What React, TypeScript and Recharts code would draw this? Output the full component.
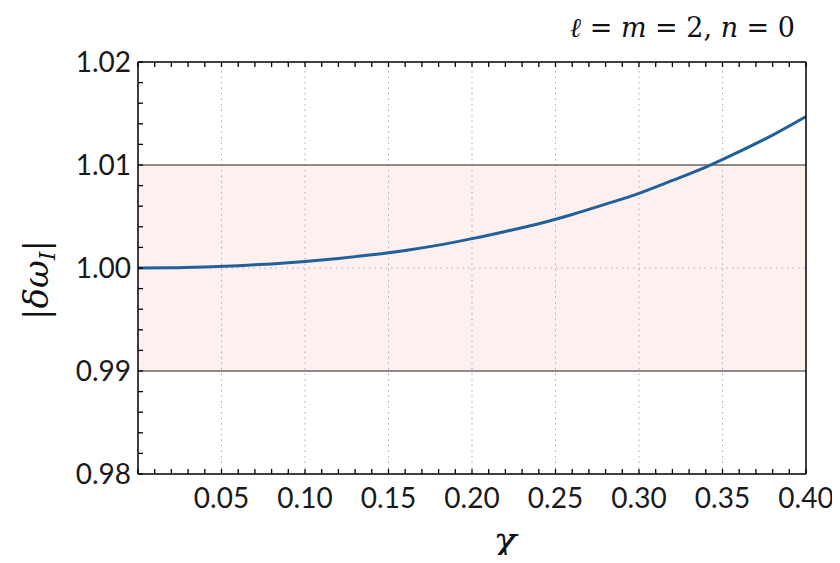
import { LineChart, Line, XAxis, YAxis, ReferenceArea, ReferenceLine } from "recharts";

const chi = [0, 0.02, 0.04, 0.06, 0.08, 0.1, 0.12, 0.14, 0.16, 0.18, 0.2, 0.22, 0.24, 0.26, 0.28, 0.3, 0.32, 0.34, 0.36, 0.38, 0.4];
const deltaOmega = [
  1.0, 1.00002, 1.0001, 1.00022, 1.0004, 1.00064, 1.00093, 1.00128, 1.0017, 1.00222, 1.00285, 1.00355, 1.0043, 1.0052,
  1.0062, 1.00725, 1.0085, 1.0098, 1.0113, 1.0129, 1.0147,
];
const xTicks = Array.from({ length: 41 }, (_, i) => i / 100);
const xLabels = [0.05, 0.1, 0.15, 0.2, 0.25, 0.3, 0.35, 0.4];
const yTicks = Array.from({ length: 21 }, (_, i) => +(0.98 + 0.002 * i).toFixed(3));
const yLabels = [0.98, 0.99, 1.0, 1.01, 1.02];
const xGrid = [0.05, 0.1, 0.15, 0.2, 0.25, 0.3, 0.35];
const band = [0.99, 1.01];

const data = chi.map((c, i) => ({ chi: c, w: deltaOmega[i] }));

const tickFont = "Lato, sans-serif";
const mathFont = "DejaVu Serif";

const isLabel = (list: number[], v: number) => list.some((l) => Math.abs(l - v) < 1e-6);

function BottomTick(props: any) {
  const { x, y, payload } = props;
  return (
    <g>
      <line x1={x} x2={x} y1={y} y2={y - 5} stroke="#000" strokeWidth={1.3} />
      {isLabel(xLabels, payload.value) && (
        <text x={x} y={y + 34} textAnchor="middle" fontFamily={tickFont} fontSize={28} fill="#1a1a1a">
          {payload.value.toFixed(2)}
        </text>
      )}
    </g>
  );
}

function TopTick(props: any) {
  const { x, y } = props;
  return <line x1={x} x2={x} y1={y} y2={y + 5} stroke="#000" strokeWidth={1.3} />;
}

function LeftTick(props: any) {
  const { x, y, payload } = props;
  return (
    <g>
      <line x1={x} x2={x + 5} y1={y} y2={y} stroke="#000" strokeWidth={1.3} />
      {isLabel(yLabels, payload.value) && (
        <text x={x - 7} y={y + 10} textAnchor="end" fontFamily={tickFont} fontSize={28} fill="#1a1a1a">
          {payload.value.toFixed(2)}
        </text>
      )}
    </g>
  );
}

function RightTick(props: any) {
  const { x, y } = props;
  return <line x1={x} x2={x - 5} y1={y} y2={y} stroke="#000" strokeWidth={1.3} />;
}

export default function App() {
  return (
    <div style={{ position: "relative", margin: "-8px", width: 840, height: 563, background: "#fff" }}>
      <LineChart width={840} height={563} data={data} margin={{ top: 61, right: 33, bottom: 88, left: 137 }}>
        <XAxis
          dataKey="chi"
          type="number"
          domain={[0, 0.4]}
          ticks={xTicks}
          interval={0}
          height={1}
          tickSize={0}
          tickMargin={0}
          tick={<BottomTick />}
          tickLine={false}
          axisLine={{ stroke: "#000", strokeWidth: 1.5 }}
          allowDataOverflow
        />
        <XAxis
          xAxisId="top"
          orientation="top"
          dataKey="chi"
          type="number"
          domain={[0, 0.4]}
          ticks={xTicks}
          interval={0}
          height={1}
          tickSize={0}
          tickMargin={0}
          tick={<TopTick />}
          tickLine={false}
          axisLine={{ stroke: "#000", strokeWidth: 1.5 }}
        />
        <YAxis
          type="number"
          domain={[0.98, 1.02]}
          ticks={yTicks}
          interval={0}
          width={1}
          tickSize={0}
          tickMargin={0}
          tick={<LeftTick />}
          tickLine={false}
          axisLine={{ stroke: "#000", strokeWidth: 1.5 }}
          allowDataOverflow
        />
        <YAxis
          yAxisId="right"
          orientation="right"
          type="number"
          domain={[0.98, 1.02]}
          ticks={yTicks}
          interval={0}
          width={1}
          tickSize={0}
          tickMargin={0}
          tick={<RightTick />}
          tickLine={false}
          axisLine={{ stroke: "#000", strokeWidth: 1.5 }}
        />
        <ReferenceArea y1={band[0]} y2={band[1]} fill="#fff0f0" fillOpacity={1} stroke="none" />
        {xGrid.map((g) => (
          <ReferenceLine key={g} x={g} stroke="#aaa" strokeWidth={1} strokeDasharray="1.5 4" />
        ))}
        <ReferenceLine y={1.0} stroke="#aaa" strokeWidth={1} strokeDasharray="1.5 4" />
        {band.map((b) => (
          <ReferenceLine key={b} y={b} stroke="#6f6666" strokeWidth={1.3} />
        ))}
        <Line dataKey="w" type="monotone" stroke="#22609a" strokeWidth={3} dot={false} isAnimationActive={false} />
      </LineChart>
      <svg width={840} height={563} style={{ position: "absolute", left: 0, top: 0, pointerEvents: "none" }}>
        <text x={795} y={37} textAnchor="end" fontFamily={mathFont} fontSize={27} fill="#111">
          <tspan fontStyle="italic">ℓ</tspan>
          <tspan> = </tspan>
          <tspan fontStyle="italic">m</tspan>
          <tspan> = 2, </tspan>
          <tspan fontStyle="italic">n</tspan>
          <tspan> = 0</tspan>
        </text>
        <text transform="translate(48, 280) rotate(-90)" textAnchor="middle" fontFamily={mathFont} fontSize={34} fill="#111">
          <tspan>|</tspan>
          <tspan fontStyle="italic">δω</tspan>
          <tspan fontStyle="italic" fontSize={22} dy={7}>I</tspan>
          <tspan dy={-7}>|</tspan>
        </text>
        <text x={505} y={553} textAnchor="middle" fontFamily={mathFont} fontStyle="italic" fontSize={38} fill="#111">
          χ
        </text>
      </svg>
    </div>
  );
}
